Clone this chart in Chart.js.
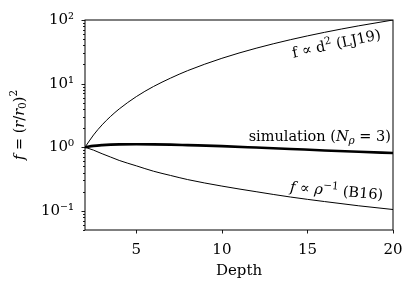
<!DOCTYPE html>
<html>
<head>
<meta charset="utf-8">
<script src="https://cdn.jsdelivr.net/npm/chart.js@4.4.0/dist/chart.umd.min.js"></script>
<style>
  html, body { margin: 0; padding: 0; background: #fff; }
  #wrap { width: 416px; height: 291px; }
</style>
</head>
<body>
<div id="wrap"><canvas id="chart"></canvas></div>
<script>
// values
const depth = [2, 2.5, 3, 3.5, 4, 5, 6, 7, 8, 10, 12, 14, 16, 18, 20];
const fLJ19 = [1, 1.56, 2.25, 3.06, 4, 6.25, 9, 12.2, 16, 25, 36, 49, 64, 81, 100];
const fB16 = [1, 0.9, 0.79, 0.7, 0.62, 0.51, 0.42, 0.36, 0.31, 0.245, 0.2, 0.165, 0.14, 0.12, 0.105];
const fSim = [1, 1.05, 1.08, 1.1, 1.11, 1.115, 1.11, 1.1, 1.08, 1.04, 0.99, 0.94, 0.89, 0.85, 0.81];

const xTicks = [5, 10, 15, 20];
const yMajor = [0.1, 1, 10, 100];
const yMajorLabels = ['10\u207B\u00B9', '10\u2070', '10\u00B9', '10\u00B2'];
const yMinor = [0.05, 0.06, 0.07, 0.08, 0.09, 0.2, 0.3, 0.4, 0.5, 0.6, 0.7, 0.8, 0.9,
  2, 3, 4, 5, 6, 7, 8, 9, 20, 30, 40, 50, 60, 70, 80, 90];

const FONT = '"DejaVu Serif", serif';

function points(ys) {
  return depth.map((d, i) => ({ x: d, y: ys[i] }));
}

// draw a string made of runs with different fonts / vertical offsets
function drawRuns(ctx, runs, x, y, align, angle) {
  ctx.save();
  ctx.translate(x, y);
  ctx.rotate(angle * Math.PI / 180);
  ctx.textBaseline = 'middle';
  ctx.textAlign = 'left';
  let total = 0;
  runs.forEach(r => { ctx.font = r.f; r.w = ctx.measureText(r.t).width; total += r.w; });
  let cx = align === 'right' ? -total : align === 'center' ? -total / 2 : 0;
  runs.forEach(r => {
    ctx.font = r.f;
    ctx.fillText(r.t, cx, r.dy || 0);
    cx += r.w;
  });
  ctx.restore();
}

const reg = (s) => s + 'px ' + FONT;
const ita = (s) => 'italic ' + s + 'px ' + FONT;

const extras = {
  id: 'extras',
  afterDraw(chart) {
    const { ctx, chartArea: a, scales: { x, y } } = chart;
    ctx.save();
    ctx.strokeStyle = '#000';
    ctx.fillStyle = '#000';
    // frame
    ctx.lineWidth = 1;
    ctx.strokeRect(a.left, a.top, a.right - a.left, a.bottom - a.top);
    // ticks
    ctx.lineWidth = 0.9;
    ctx.beginPath();
    xTicks.forEach(v => {
      const px = Math.round(x.getPixelForValue(v)) + 0.5;
      ctx.moveTo(px, a.bottom); ctx.lineTo(px, a.bottom + 3.5);
    });
    yMajor.forEach(v => {
      const py = Math.round(y.getPixelForValue(v)) + 0.5;
      ctx.moveTo(a.left, py); ctx.lineTo(a.left - 3.5, py);
    });
    yMinor.forEach(v => {
      const py = Math.round(y.getPixelForValue(v)) + 0.5;
      ctx.moveTo(a.left, py); ctx.lineTo(a.left - 2, py);
    });
    ctx.stroke();

    // y title: f = (r/r0)^2
    drawRuns(ctx, [
      { t: 'f', f: ita(14.5) },
      { t: ' = (', f: reg(14.5) },
      { t: 'r', f: ita(14.5) },
      { t: '/', f: reg(14.5) },
      { t: 'r', f: ita(14.5) },
      { t: '0', f: reg(10.5), dy: 3 },
      { t: ')', f: reg(14.5) },
      { t: '2', f: reg(10.5), dy: -6 }
    ], 20, (a.top + a.bottom) / 2, 'center', -90);

    // curve labels
    drawRuns(ctx, [
      { t: 'f \u221D d', f: reg(14.5) },
      { t: '2', f: reg(10.5), dy: -5 },
      { t: ' (LJ19)', f: reg(14.5) }
    ], x.getPixelForValue(16.7), y.getPixelForValue(41), 'center', -12);

    drawRuns(ctx, [
      { t: 'simulation (', f: reg(14.5) },
      { t: 'N', f: ita(14.5) },
      { t: '\u03C1', f: ita(10.5), dy: 4 },
      { t: ' = 3)', f: reg(14.5) }
    ], a.right - 2, y.getPixelForValue(1.42), 'right', 0);

    drawRuns(ctx, [
      { t: 'f', f: ita(14.5) },
      { t: ' \u221D ', f: reg(14.5) },
      { t: '\u03C1', f: ita(14.5) },
      { t: '\u22121', f: reg(10.5), dy: -5 },
      { t: ' (B16)', f: reg(14.5) }
    ], x.getPixelForValue(16.7), y.getPixelForValue(0.2), 'center', 5);
    ctx.restore();
  }
};

new Chart(document.getElementById('chart'), {
  type: 'line',
  data: {
    datasets: [
      { label: 'LJ19', data: points(fLJ19), borderColor: '#000', borderWidth: 1 },
      { label: 'simulation', data: points(fSim), borderColor: '#000', borderWidth: 2.6 },
      { label: 'B16', data: points(fB16), borderColor: '#000', borderWidth: 1 }
    ]
  },
  options: {
    responsive: true,
    maintainAspectRatio: false,
    animation: false,
    devicePixelRatio: 1,
    layout: { padding: { top: 18, right: 23, left: 0, bottom: 0 } },
    elements: {
      point: { radius: 0 },
      line: { cubicInterpolationMode: 'monotone', fill: false }
    },
    plugins: { legend: { display: false }, tooltip: { enabled: false } },
    scales: {
      x: {
        type: 'linear',
        min: 2,
        max: 20,
        afterBuildTicks: (s) => { s.ticks = xTicks.map(v => ({ value: v })); },
        afterFit: (s) => { s.height = 61; },
        grid: { display: false, drawTicks: false },
        border: { display: false },
        ticks: { color: '#000', font: { family: FONT, size: 15 }, padding: 11, maxRotation: 0, autoSkip: false },
        title: { display: true, text: 'Depth', color: '#000', font: { family: FONT, size: 15 }, padding: { top: 2, bottom: 11 } }
      },
      y: {
        type: 'logarithmic',
        min: 0.05,
        max: 100,
        afterBuildTicks: (s) => { s.ticks = yMajor.map(v => ({ value: v, major: true })); },
        afterFit: (s) => { s.width = 85; },
        grid: { display: false, drawTicks: false },
        border: { display: false },
        ticks: {
          color: '#000',
          font: { family: FONT, size: 15 },
          padding: 11,
          autoSkip: false,
          callback: (v) => yMajorLabels[yMajor.indexOf(v)] || ''
        }
      }
    }
  },
  plugins: [extras]
});
</script>
</body>
</html>
